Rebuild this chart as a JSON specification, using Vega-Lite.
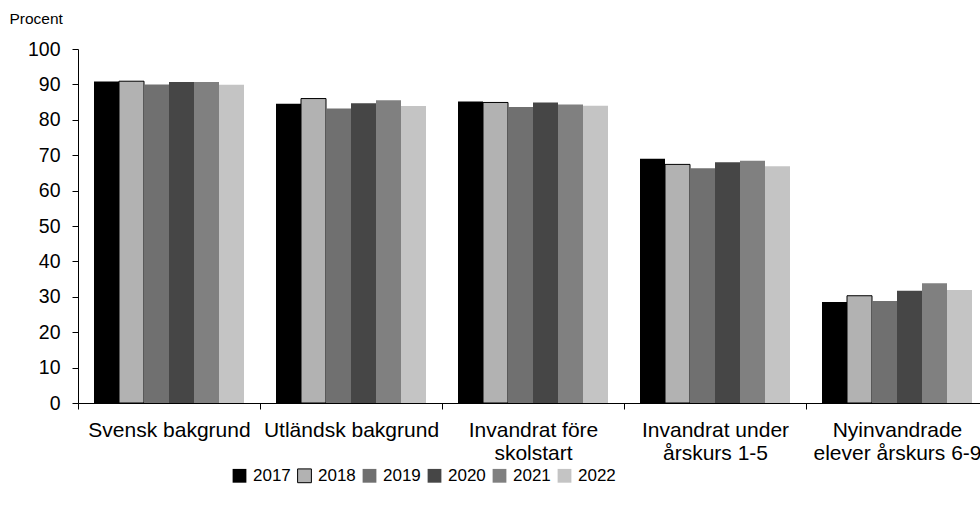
{
  "$schema": "https://vega.github.io/schema/vega-lite/v6.json",
  "autosize": "none",
  "width": 910,
  "height": 354,
  "padding": {"left": 78, "top": 49, "right": 0, "bottom": 110},
  "background": "white",
  "config": {
    "view": {"stroke": null},
    "font": "Liberation Sans",
    "axis": {"labelFont": "Liberation Sans", "titleFont": "Liberation Sans", "labelColor": "#000", "titleColor": "#000", "domainColor": "#000", "tickColor": "#000", "grid": false}
  },
  "data": {
    "values": [
      {"Group": "Svensk bakgrund", "Year": "2017", "Value": 90.8},
      {"Group": "Svensk bakgrund", "Year": "2018", "Value": 90.9},
      {"Group": "Svensk bakgrund", "Year": "2019", "Value": 90.0},
      {"Group": "Svensk bakgrund", "Year": "2020", "Value": 90.7},
      {"Group": "Svensk bakgrund", "Year": "2021", "Value": 90.7},
      {"Group": "Svensk bakgrund", "Year": "2022", "Value": 89.9},
      {"Group": "Utländsk bakgrund", "Year": "2017", "Value": 84.5},
      {"Group": "Utländsk bakgrund", "Year": "2018", "Value": 86.0},
      {"Group": "Utländsk bakgrund", "Year": "2019", "Value": 83.2},
      {"Group": "Utländsk bakgrund", "Year": "2020", "Value": 84.7},
      {"Group": "Utländsk bakgrund", "Year": "2021", "Value": 85.5},
      {"Group": "Utländsk bakgrund", "Year": "2022", "Value": 83.9},
      {"Group": "Invandrat före|skolstart", "Year": "2017", "Value": 85.2},
      {"Group": "Invandrat före|skolstart", "Year": "2018", "Value": 84.9},
      {"Group": "Invandrat före|skolstart", "Year": "2019", "Value": 83.6},
      {"Group": "Invandrat före|skolstart", "Year": "2020", "Value": 84.9},
      {"Group": "Invandrat före|skolstart", "Year": "2021", "Value": 84.3},
      {"Group": "Invandrat före|skolstart", "Year": "2022", "Value": 84.0},
      {"Group": "Invandrat under|årskurs 1-5", "Year": "2017", "Value": 69.0},
      {"Group": "Invandrat under|årskurs 1-5", "Year": "2018", "Value": 67.4},
      {"Group": "Invandrat under|årskurs 1-5", "Year": "2019", "Value": 66.3},
      {"Group": "Invandrat under|årskurs 1-5", "Year": "2020", "Value": 68.0},
      {"Group": "Invandrat under|årskurs 1-5", "Year": "2021", "Value": 68.4},
      {"Group": "Invandrat under|årskurs 1-5", "Year": "2022", "Value": 66.9},
      {"Group": "Nyinvandrade|elever årskurs 6-9", "Year": "2017", "Value": 28.5},
      {"Group": "Nyinvandrade|elever årskurs 6-9", "Year": "2018", "Value": 30.3},
      {"Group": "Nyinvandrade|elever årskurs 6-9", "Year": "2019", "Value": 28.8},
      {"Group": "Nyinvandrade|elever årskurs 6-9", "Year": "2020", "Value": 31.7},
      {"Group": "Nyinvandrade|elever årskurs 6-9", "Year": "2021", "Value": 33.8},
      {"Group": "Nyinvandrade|elever årskurs 6-9", "Year": "2022", "Value": 31.9}
    ]
  },
  "mark": {"type": "bar", "strokeWidth": 1},
  "encoding": {
    "x": {
      "field": "Group", "type": "nominal", "sort": null,
      "scale": {"paddingInner": 0, "paddingOuter": 0},
      "axis": {"title": null, "labelAngle": 0, "tickOffset": -91, "labelOffset": 91, "tickSize": 6, "labelPadding": 10, "labelFontSize": 21, "labelLineHeight": 23, "labelExpr": "split(datum.label, '|')", "labelBaseline": "top", "labelOverlap": false, "labelBound": false}
    },
    "xOffset": {"field": "Year", "type": "nominal", "scale": {"paddingInner": 0, "paddingOuter": 0.64}},
    "y": {
      "field": "Value", "type": "quantitative",
      "scale": {"domain": [0, 100], "nice": false},
      "axis": {"values": [0,10,20,30,40,50,60,70,80,90,100], "tickSize": 6, "labelPadding": 12, "labelFontSize": 19.5, "title": "Procent", "titleAngle": 0, "titleAlign": "left", "titleBaseline": "middle", "titleX": -69, "titleY": -31, "titleFontSize": 15.5, "titleFontWeight": "normal"}
    },
    "color": {
      "field": "Year", "type": "nominal",
      "scale": {"domain": ["2017","2018","2019","2020","2021","2022"], "range": ["#000000","#b2b2b2","#707070","#464646","#808080","#c4c4c4"]},
      "legend": {"title": null, "orient": "none", "direction": "horizontal", "legendX": 153, "legendY": 418, "symbolType": "square", "symbolSize": 190, "labelFontSize": 17, "labelFont": "Liberation Sans", "labelColor": "#000", "labelOffset": 5, "columnPadding": 4, "symbolStrokeWidth": 1}
    },
    "stroke": {
      "field": "Year", "type": "nominal",
      "scale": {"domain": ["2017","2018","2019","2020","2021","2022"], "range": ["transparent","#000000","transparent","transparent","transparent","transparent"]},
      "legend": {"title": null, "orient": "none", "direction": "horizontal", "legendX": 153, "legendY": 418, "symbolType": "square", "symbolSize": 190, "labelFontSize": 17, "labelFont": "Liberation Sans", "labelColor": "#000", "labelOffset": 5, "columnPadding": 4, "symbolStrokeWidth": 1}
    }
  }
}
